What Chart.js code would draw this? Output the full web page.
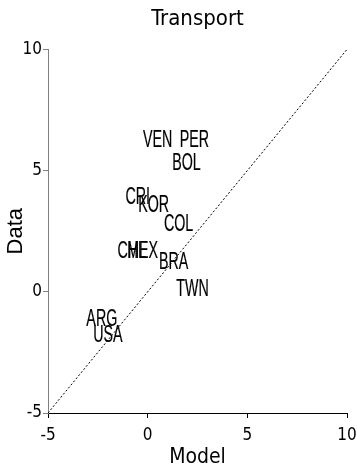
<!DOCTYPE html>
<html>
<head>
<meta charset="utf-8">
<script src="https://cdn.jsdelivr.net/npm/chart.js@4.4.1/dist/chart.umd.min.js"></script>
<style>
  html, body { margin: 0; padding: 0; background: #fff; }
  #grafico { display: block; }
</style>
</head>
<body>
<canvas id="grafico" width="357" height="467"></canvas>
<script>
// Valores
const paises = ['VEN', 'PER', 'BOL', 'CRI', 'KOR', 'COL', 'CHL', 'MEX', 'BRA', 'TWN', 'ARG', 'USA'];
const modelo = [0.5, 2.35, 1.95, -0.5, 0.3, 1.55, -0.8, -0.25, 1.3, 2.25, -2.3, -2.0];
const dados = [6.25, 6.25, 5.3, 3.9, 3.55, 2.75, 1.65, 1.65, 1.2, 0.1, -1.15, -1.8];
const diagonal = [-5, 10];
const marcas = [-5, 0, 5, 10];

const fonteEstreita = '"Liberation Sans Narrow", "DejaVu Sans Condensed", "Liberation Sans", sans-serif';

// Escreve o nome de cada pais no lugar do ponto.
const rotulos = {
    id: 'rotulos',
    afterDatasetsDraw(chart) {
        const ctx = chart.ctx;
        const x = chart.scales.x, y = chart.scales.y;
        ctx.save();
        ctx.font = '23px "Liberation Sans", Arial, sans-serif';
        ctx.fillStyle = '#000';
        ctx.strokeStyle = '#000';
        ctx.lineWidth = 0.2;
        ctx.textAlign = 'center';
        ctx.textBaseline = 'middle';
        paises.forEach((p, i) => {
            ctx.save();
            ctx.translate(x.getPixelForValue(modelo[i]), y.getPixelForValue(dados[i]));
            ctx.scale(0.62, 1);
            ctx.fillText(p, 0, 0);
            ctx.strokeText(p, 0, 0);
            ctx.restore();
        });
        ctx.restore();
    }
};

function fixarMarcas(scale) {
    scale.ticks = marcas.map(v => ({ value: v }));
}

const ctx = document.getElementById('grafico').getContext('2d');
new Chart(ctx, {
    type: 'scatter',
    data: {
        datasets: [
            {
                data: paises.map((p, i) => ({ x: modelo[i], y: dados[i] })),
                pointRadius: 0,
                showLine: false
            },
            {
                type: 'line',
                data: diagonal.map(v => ({ x: v, y: v })),
                borderColor: '#000',
                borderWidth: 1,
                borderDash: [2, 2],
                pointRadius: 0,
                fill: false
            }
        ]
    },
    options: {
        responsive: false,
        animation: false,
        layout: { padding: { left: 0, right: 10, top: 0, bottom: 0 } },
        plugins: {
            legend: { display: false },
            tooltip: { enabled: false },
            title: {
                display: true,
                text: 'Transport',
                fullSize: false,
                color: '#000',
                font: { family: fonteEstreita, size: 22, weight: 'normal' },
                padding: { top: 6, bottom: 17 }
            }
        },
        scales: {
            x: {
                type: 'linear',
                min: -5,
                max: 10,
                afterBuildTicks: fixarMarcas,
                afterFit: s => { s.height = 54; s.paddingLeft = 0; s.paddingRight = 0; },
                border: { color: '#000', width: 1 },
                grid: { drawOnChartArea: false, drawTicks: true, tickLength: 5, color: '#000' },
                ticks: { color: '#000', padding: 7, maxRotation: 0, font: { family: fonteEstreita, size: 17 } },
                title: {
                    display: true, text: 'Model', color: '#000',
                    font: { family: fonteEstreita, size: 21 },
                    padding: { top: 0, bottom: -3 }
                }
            },
            y: {
                type: 'linear',
                min: -5,
                max: 10,
                afterBuildTicks: fixarMarcas,
                afterFit: s => { s.width = 48; s.paddingTop = 0; s.paddingBottom = 0; },
                border: { color: '#808080', width: 1 },
                grid: { drawOnChartArea: false, drawTicks: true, tickLength: 5, color: '#808080' },
                ticks: { color: '#000', padding: 1, font: { family: fonteEstreita, size: 17 } },
                title: {
                    display: true, text: 'Data', color: '#000',
                    font: { family: '"Liberation Sans", Arial, sans-serif', size: 22 },
                    padding: { top: 3, bottom: 0 }
                }
            }
        }
    },
    plugins: [rotulos]
});
</script>
</body>
</html>
